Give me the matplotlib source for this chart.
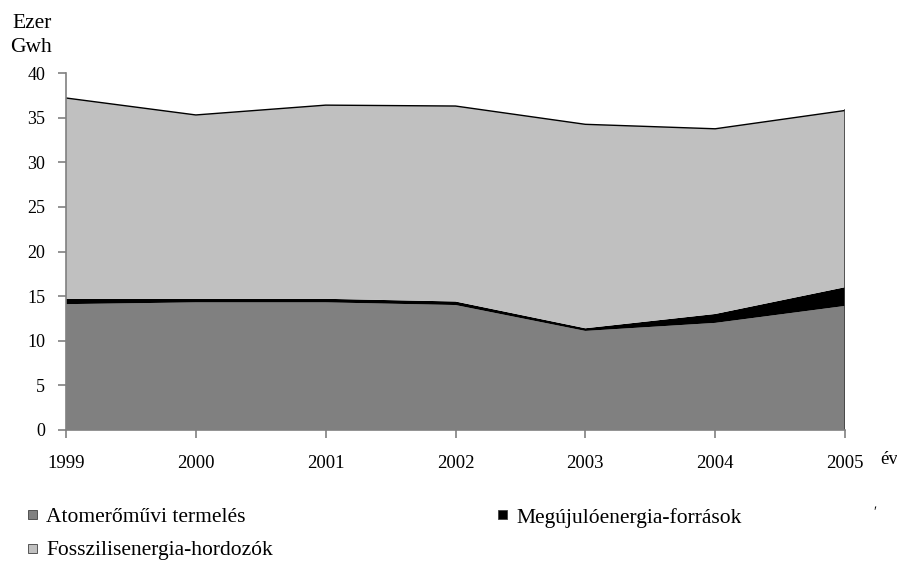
import numpy as np
import matplotlib
matplotlib.use("Agg")
import matplotlib.pyplot as plt
from matplotlib.patches import Rectangle

plt.rcParams['font.family'] = ['Liberation Serif', 'DejaVu Serif']

# data (ezer GWh)
years = [1999, 2000, 2001, 2002, 2003, 2004, 2005]
nuclear = [14.1, 14.3, 14.3, 14.0, 11.1, 12.0, 13.9]
renewable = [0.6, 0.4, 0.4, 0.4, 0.3, 1.0, 2.1]
fossil = [22.5, 20.6, 21.7, 21.9, 22.85, 20.75, 19.8]
labels = ['Atomerőművi termelés', 'Megújulóenergia-források', 'Fosszilisenergia-hordozók']
colors = ['#808080', '#000000', '#c0c0c0']

W, H = 897, 565
fig = plt.figure(figsize=(W/100, H/100), dpi=100)
ax = fig.add_axes([66/W, 1-430/H, (845-66)/W, (430-73)/H])

ax.stackplot(years, nuclear, renewable, fossil, colors=colors, linewidth=0)
top = np.array(nuclear) + np.array(renewable) + np.array(fossil)
ax.plot(years, top, color='black', lw=1.0)
ax.plot([years[-1], years[-1]], [0, top[-1]], color='#404040', lw=1.2)

ax.set_xlim(years[0], years[-1])
ax.set_ylim(0, 40)
ax.set_xticks(years)
ax.set_xticklabels([str(y) for y in years], fontsize=13.5)
ax.set_yticks(range(0, 41, 5))
ax.tick_params(axis='y', labelsize=13, length=6, width=1.2, color='#808080', pad=9)
ax.tick_params(axis='x', length=6, width=1.2, color='#808080', pad=12)
for s in ['top', 'right']:
    ax.spines[s].set_visible(False)
for s in ['left', 'bottom']:
    ax.spines[s].set_color('#808080')
    ax.spines[s].set_linewidth(1.2)

fig.text(12/W, 1-23/H, 'Ezer', fontsize=15.5, va='center')
fig.text(10/W, 1-48/H, 'Gwh', fontsize=15.5, va='center')
fig.text(880/W, 1-459/H, 'év', fontsize=13.5, va='center')

# legend
leg = [(28, 514, 518, 0), (498, 514, 518, 1), (28, 548, 551, 2)]
for x, ys, yt, i in leg:
    fig.patches.append(Rectangle((x/W, 1-(ys+5)/H), 9/W, 9/H,
                                 transform=fig.transFigure, facecolor=colors[i],
                                 edgecolor='#404040', lw=0.6))
    fig.text((x+18)/W, 1-yt/H, labels[i], fontsize=15.5, va='center')
fig.text(873/W, 1-512/H, 'ʹ', fontsize=10, va='center')

fig.savefig('out.png', dpi=100)
